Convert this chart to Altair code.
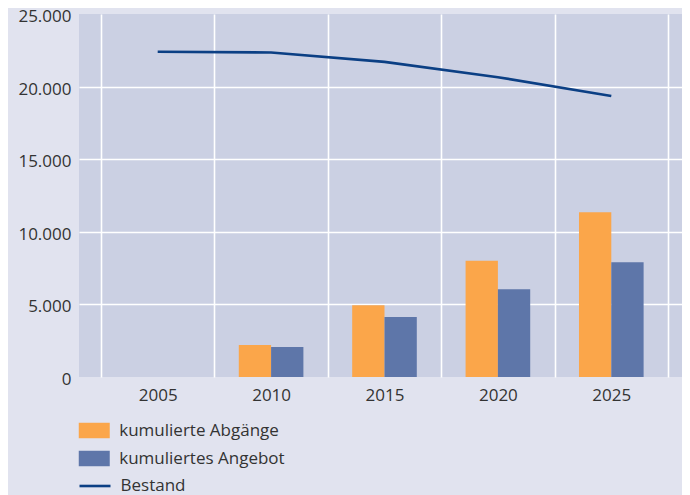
import altair as alt
import pandas as pd

years = ["2005", "2010", "2015", "2020", "2025"]
abgaenge = [0, 2200, 4950, 8000, 11350]
angebot = [0, 2060, 4130, 6050, 7900]
bestand = [22400, 22350, 21700, 20650, 19350]
series = ["kumulierte Abgänge", "kumuliertes Angebot"]
line_name = "Bestand"
y_ticks = [0, 5000, 10000, 15000, 20000, 25000]

bar_colors = ["#FBA64A", "#5E76A9"]
line_color = "#0B3F84"
font = "Open Sans"
text_color = "#333333"

bars_df = pd.DataFrame(
    [{"year": y, "series": series[0], "value": v} for y, v in zip(years, abgaenge)]
    + [{"year": y, "series": series[1], "value": v} for y, v in zip(years, angebot)]
)
line_df = pd.DataFrame({"year": years, "value": bestand, "name": line_name})

x_enc = alt.X(
    "year:O",
    sort=years,
    scale=alt.Scale(paddingInner=0, paddingOuter=0.1587, align=0.611),
    axis=alt.Axis(
        title=None,
        labelAngle=0,
        tickBand="extent",
        grid=True,
        gridColor="white",
        gridWidth=1.6,
        domain=False,
        ticks=False,
        labelPadding=10,
        labelFontSize=17,
        labelFont=font,
        labelColor=text_color,
    ),
)

y_enc = alt.Y(
    "value:Q",
    scale=alt.Scale(domain=[0, 25000], nice=False),
    axis=alt.Axis(
        title=None,
        values=y_ticks,
        domain=False,
        ticks=False,
        labelPadding=8,
        labelFontSize=17,
        labelFont=font,
        labelColor=text_color,
        labelOffset=2.5,
        labelExpr="replace(format(datum.value, ','), ',', '.')",
        grid=True,
        gridColor="white",
        gridWidth=1.6,
        gridOpacity={"condition": {"test": "datum.value == 0 || datum.value == 25000", "value": 0}, "value": 1},
    ),
)

bars = alt.Chart(bars_df).mark_bar().encode(
    x=x_enc,
    xOffset=alt.XOffset("series:N", sort=series, scale=alt.Scale(paddingInner=0, paddingOuter=0.755)),
    y=y_enc,
    fill=alt.Fill(
        "series:N",
        sort=series,
        scale=alt.Scale(domain=series, range=bar_colors),
        legend=alt.Legend(
            title=None,
            orient="none",
            legendX=6.75,
            legendY=408,
            symbolType="M-2,-1H2V1H-2Z",
            symbolSize=240,
            symbolStrokeWidth=0,
            labelFontSize=17,
            labelFont=font,
            labelColor=text_color,
            labelOffset=16.5,
            labelLimit=400,
            rowPadding=10,
        ),
    ),
)

line = alt.Chart(line_df).mark_line(strokeWidth=2.6).encode(
    x=alt.X("year:O", sort=years),
    y=alt.Y("value:Q"),
    stroke=alt.Stroke(
        "name:N",
        scale=alt.Scale(domain=[line_name], range=[line_color]),
        legend=alt.Legend(
            title=None,
            orient="none",
            legendX=-1,
            legendY=455,
            symbolType="stroke",
            symbolSize=961,
            symbolStrokeWidth=2.6,
            labelFontSize=17,
            labelFont=font,
            labelColor=text_color,
            labelOffset=8.5,
            labelLimit=400,
        ),
    ),
)

chart = (
    alt.layer(bars, line)
    .properties(
        width=603,
        height=363,
        autosize=alt.AutoSizeParams(type="none"),
        padding={"left": 71, "top": 6, "right": 0, "bottom": 118},
        background="#E1E3EF",
    )
    .configure_view(fill="#CBD0E3", stroke=None)
)

chart.save("out.html", embed_options={"renderer": "svg", "actions": False})
